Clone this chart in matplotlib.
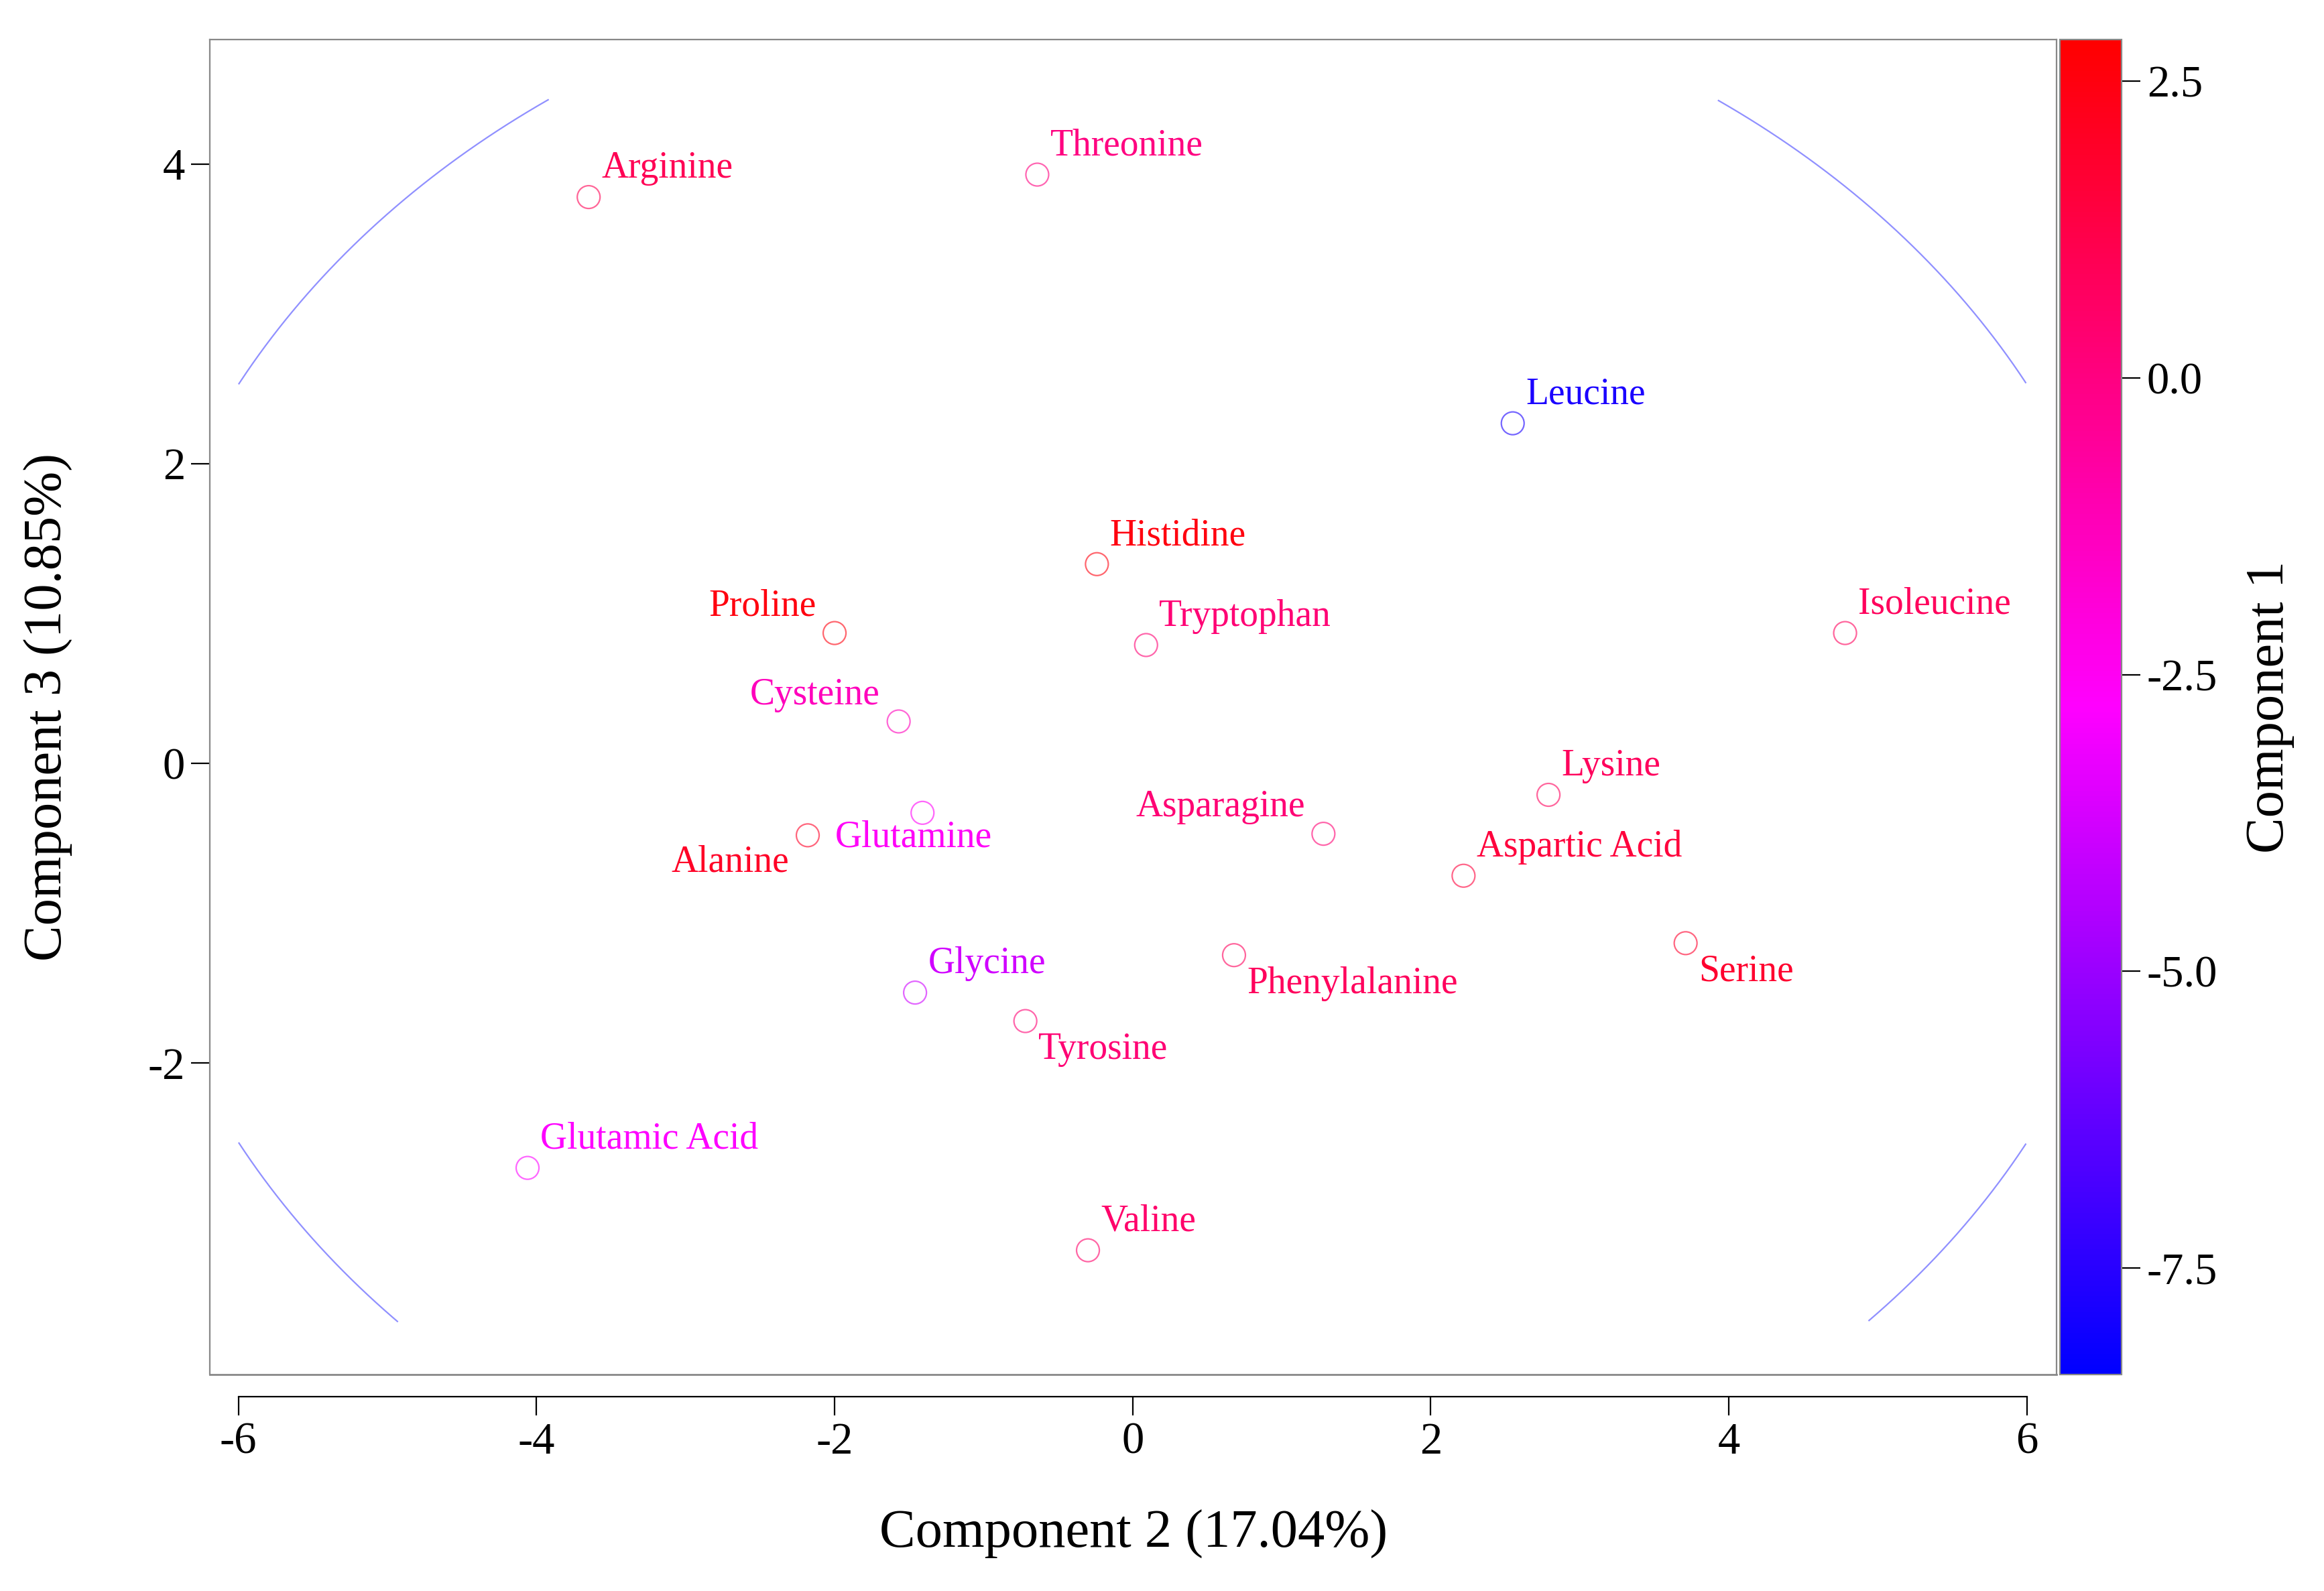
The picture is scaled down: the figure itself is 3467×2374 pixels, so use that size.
import numpy as np
import matplotlib
matplotlib.use('Agg')
import matplotlib.pyplot as plt
from matplotlib.colors import LinearSegmentedColormap, Normalize

names = ['Arginine', 'Threonine', 'Leucine', 'Histidine', 'Tryptophan', 'Proline', 'Isoleucine',
         'Cysteine', 'Glutamine', 'Alanine', 'Asparagine', 'Lysine', 'Aspartic Acid', 'Serine',
         'Phenylalanine', 'Glycine', 'Tyrosine', 'Glutamic Acid', 'Valine']
comp2 = [-3.65, -0.64, 2.55, -0.24, 0.09, -2.0, 4.78, -1.57, -1.41, -2.18, 1.28, 2.79, 2.22, 3.71,
         0.68, -1.46, -0.72, -4.06, -0.30]
comp3 = [3.78, 3.93, 2.27, 1.33, 0.79, 0.87, 0.87, 0.28, -0.33, -0.48, -0.47, -0.21, -0.75, -1.20,
         -1.28, -1.53, -1.72, -2.70, -3.25]
comp1 = [1.0, 0.0, -7.8, 2.5, 0.3, 2.5, 0.8, -1.3, -2.6, 2.0, 0.3, 0.8, 1.5, 1.8,
         0.8, -3.8, 0.3, -2.8, 0.5]
# label placement: (dx, dy) in points, ha, va
label_pos = {'Proline': (-10, 5, 'right', 'bottom'), 'Cysteine': (-10, 5, 'right', 'bottom'),
             'Asparagine': (-10, 5, 'right', 'bottom'), 'Alanine': (-10, -5, 'right', 'top'),
             'Phenylalanine': (7, -6, 'left', 'top'), 'Serine': (7, -6, 'left', 'top'),
             'Tyrosine': (7, -6, 'left', 'top'), 'Glutamine': (-47, -4, 'left', 'top')}

plt.rcParams['font.family'] = ['Liberation Serif', 'DejaVu Serif']
plt.rcParams['axes.unicode_minus'] = False
cmap = LinearSegmentedColormap.from_list('bmr', ['#0000ff', '#ff00ff', '#ff0000'])
norm = Normalize(vmin=-8.4, vmax=2.85)

fig = plt.figure(figsize=(17.335, 11.87), dpi=200)
ax = fig.add_axes([0.0904, 0.136, 0.7946, 0.839])

# confidence ellipse, clipped to visible region
t = np.linspace(0, 2 * np.pi, 2000)
ex, ey = 6.78 * np.cos(t), 5.43 * np.sin(t)
mask = (np.abs(ex) > 6.0) | (ey > 4.43) | (ey < -3.73)
ex[mask] = np.nan
ey[mask] = np.nan
ax.plot(ex, ey, color='#9090ff', lw=0.8)

colors = cmap(norm(np.array(comp1)))
ax.scatter(comp2, comp3, s=150, facecolors='none', edgecolors=colors, linewidths=0.8,
           alpha=0.6, zorder=3)
for n, x, y, c in zip(names, comp2, comp3, colors):
    dx, dy, ha, va = label_pos.get(n, (7, 6, 'left', 'bottom'))
    ax.annotate(n, (x, y), xytext=(dx, dy), textcoords='offset points', ha=ha, va=va,
                color=c, fontsize=20)

ax.set_xlim(-6.19, 6.2)
ax.set_ylim(-4.08, 4.83)
ax.set_xticks([-6, -4, -2, 0, 2, 4, 6])
ax.set_yticks([-2, 0, 2, 4])
for s in ax.spines.values():
    s.set_color('#888888')
ax.spines['bottom'].set_position(('outward', 12))
ax.spines['bottom'].set_bounds(-6, 6)
ax.spines['bottom'].set_color('black')
ax.plot([0, 1], [0, 0], transform=ax.transAxes, color='#888888', lw=1, clip_on=False)
ax.tick_params(labelsize=24, length=10, direction='out')
ax.set_xlabel('Component 2 (17.04%)', fontsize=29, labelpad=25)
ax.set_ylabel('Component 3 (10.85%)', fontsize=29, labelpad=40)

cax = fig.add_axes([0.8865, 0.136, 0.0265, 0.839])
cb = fig.colorbar(plt.cm.ScalarMappable(norm=norm, cmap=cmap), cax=cax)
cb.set_ticks([2.5, 0.0, -2.5, -5.0, -7.5])
cb.set_ticklabels(['2.5', '0.0', '-2.5', '-5.0', '-7.5'])
cb.ax.tick_params(labelsize=24, length=10)
cb.set_label('Component 1', fontsize=29, labelpad=15)
cb.outline.set_edgecolor('#888888')

fig.savefig('out.png', dpi=200)
